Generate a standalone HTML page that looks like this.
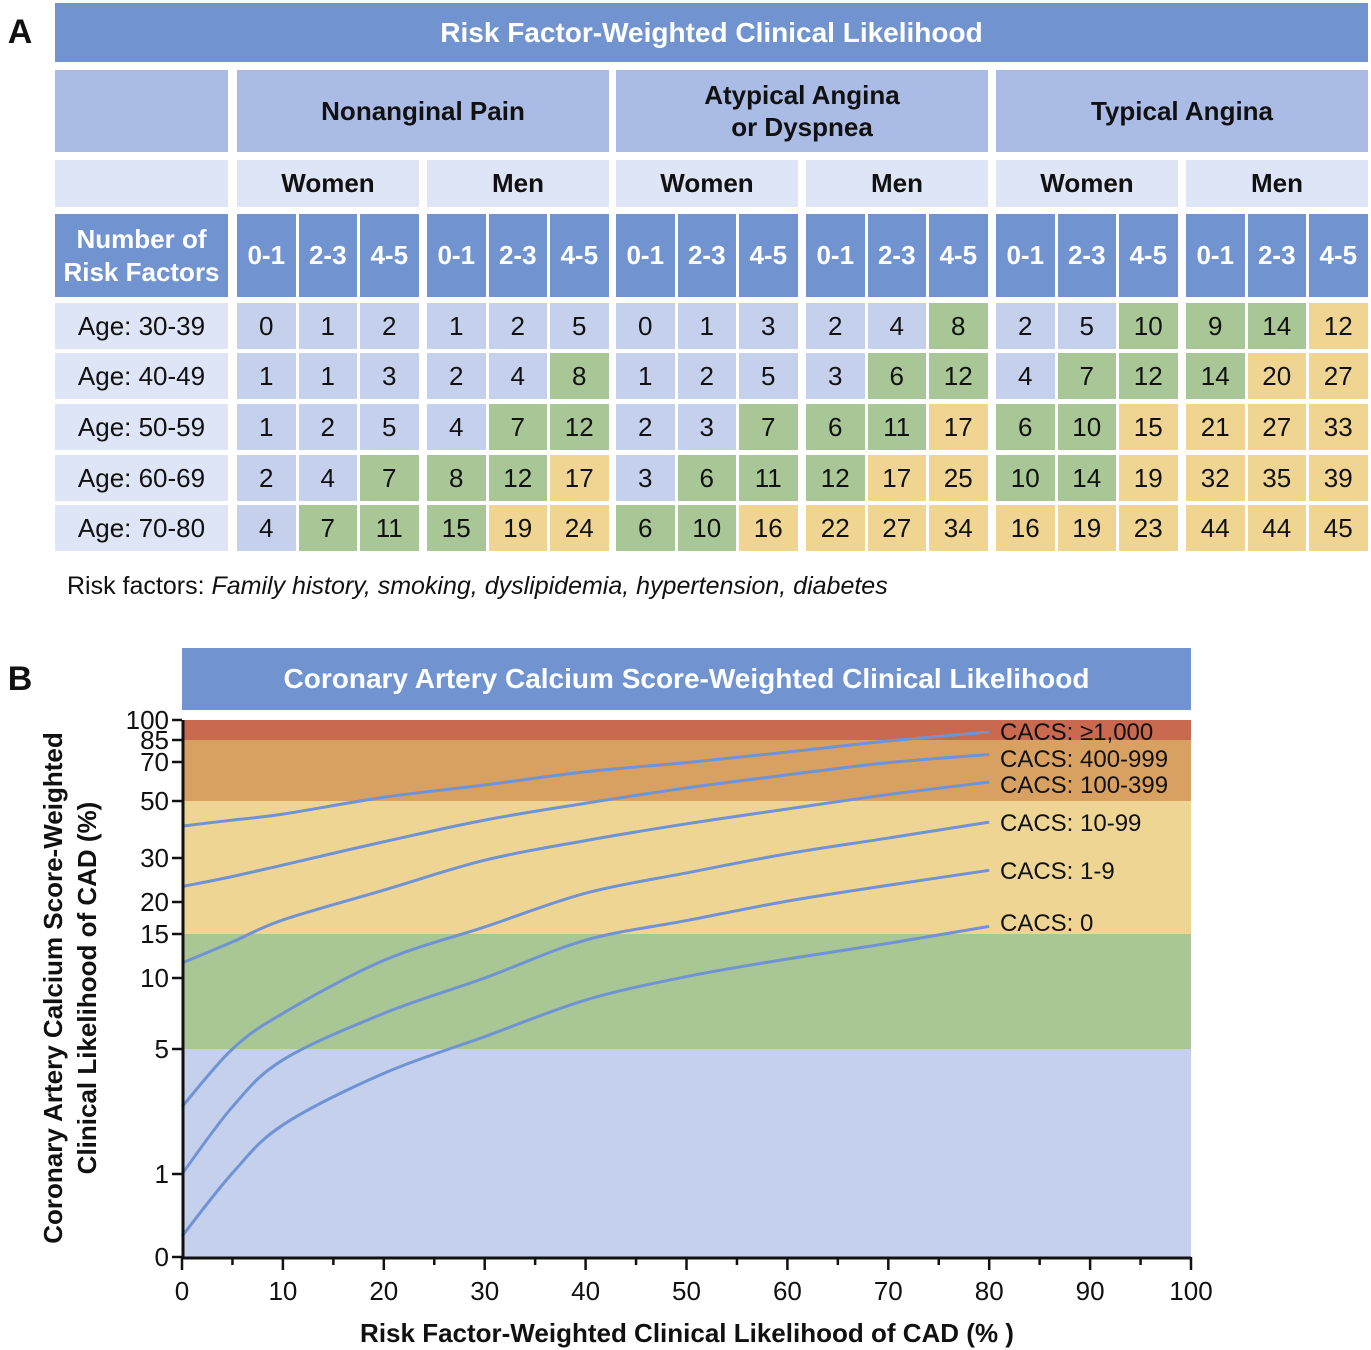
<!DOCTYPE html>
<html><head><meta charset="utf-8">
<style>
body{margin:0;width:1371px;height:1350px;background:#fff;position:relative;overflow:hidden;font-family:"Liberation Sans",sans-serif;}
.c{position:absolute;display:flex;align-items:center;justify-content:center;text-align:center;box-sizing:border-box;color:#111;}
.b{font-weight:bold;}
svg text{font-family:"Liberation Sans",sans-serif;}
</style></head><body>
<div class="c b" style="left:0;top:10px;width:40px;height:44px;font-size:34px;">A</div>
<div class="c b" style="left:55px;top:3px;width:1313px;height:59px;background:#7194d0;color:#fff;font-size:28px;">Risk Factor-Weighted Clinical Likelihood</div>
<div id="tbl"></div>
<div class="c" style="left:67px;top:566px;height:40px;justify-content:flex-start;font-size:25px;white-space:nowrap;">Risk factors:&nbsp;<i>Family history, smoking, dyslipidemia, hypertension, diabetes</i></div>

<div class="c b" style="left:0;top:657px;width:40px;height:44px;font-size:34px;">B</div>
<div class="c b" style="left:182px;top:648px;width:1009px;height:62px;background:#7194d0;color:#fff;font-size:28px;">Coronary Artery Calcium Score-Weighted Clinical Likelihood</div>
<svg id="chart" width="1371" height="1350" style="position:absolute;left:0;top:0;"></svg>

<script>
// ---- Table data ----
var ages = ["Age: 30-39","Age: 40-49","Age: 50-59","Age: 60-69","Age: 70-80"];
var groups = ["Nonanginal Pain","Atypical Angina<br>or Dyspnea","Typical Angina"];
var sexes = ["Women","Men"];
var riskCols = ["0-1","2-3","4-5"];
var tableValues = [
 [0,1,2,1,2,5, 0,1,3,2,4,8, 2,5,10,9,14,12],
 [1,1,3,2,4,8, 1,2,5,3,6,12, 4,7,12,14,20,27],
 [1,2,5,4,7,12, 2,3,7,6,11,17, 6,10,15,21,27,33],
 [2,4,7,8,12,17, 3,6,11,12,17,25, 10,14,19,32,35,39],
 [4,7,11,15,19,24, 6,10,16,22,27,34, 16,19,23,44,44,45]
];
var tableColors = [
 "bbbbbbbbbbbgbbgggy",
 "bbbbbgbbbbggbgggyy",
 "bbbbggbbgggyggyyyy",
 "bbgggybgggyyggyyyy",
 "bgggyyggyyyyyyyyyy"
];
var colMap={b:"#c5d0ec",g:"#a9c796",y:"#efd591"};
var tbl=document.getElementById('tbl');
function cell(x,y,w,h,bg,html,fs,bold,color){
  var d=document.createElement('div');
  d.className='c'+(bold?' b':'');
  d.style.cssText='left:'+x+'px;top:'+y+'px;width:'+w+'px;height:'+h+'px;background:'+bg+';font-size:'+fs+'px;line-height:1.25;'+(color?'color:'+color+';':'');
  d.innerHTML=html;
  tbl.appendChild(d);
  return d;
}
var gx=[237,616,996], gw=372, sw=182, cw=58.5, gap=3;
var e;
e=cell(55,70,173,82,"#aabbe5","",26,true);


e=cell(55,160,173,47,"#dee5f6","",26,true);


e=cell(55,214,173,83,"#7194d0","Number of<br>Risk Factors",26,true,"#fff");


for(var g=0;g<3;g++){
  e=cell(gx[g],70,gw,82,"#aabbe5",groups[g],26,true);
  
  
  for(var s=0;s<2;s++){
    var sx=gx[g]+s*(sw+8);
    e=cell(sx,160,sw,47,"#dee5f6",sexes[s],26,true);
    
    
    for(var k=0;k<3;k++){
      var cx=sx+k*(cw+gap);
      e=cell(cx,214,cw,83,"#7194d0",riskCols[k],26,true,"#fff");
      
      
    }
  }
}
var rowY=[303,353,404,455,505], rh=46;
for(var r=0;r<ages.length;r++){
  e=cell(55,rowY[r],173,rh,"#dee5f6",ages[r],26,false);
  
  
  for(var j=0;j<18;j++){
    var g2=Math.floor(j/6), s2=Math.floor((j%6)/3), k2=j%3;
    var x=gx[g2]+s2*(sw+8)+k2*(cw+gap);
    e=cell(x,rowY[r],cw,rh,colMap[tableColors[r][j]],tableValues[r][j],26,false);
    
    
  }
}

// ---- Chart data ----
var yTickVals = [0,1,5,10,15,20,30,50,70,85,100];
var yTickPix = [1257,1174,1049,978,934,902,858,801,762,740,720];
var xTicks = [0,10,20,30,40,50,60,70,80,90,100];
var bandEdges = [0,5,15,50,85,100];
var bandColors = ["#c5d0ec","#a9c695","#efd593","#d8a162","#c96a50"];
var curveX = [0,5,10,20,30,40,50,60,70,80];
var cacs0 = [0.25,1.03,2.57,4.22,5.87,8.45,10.16,12.16,13.94,16.19];
var cacs1_9 = [1.0,3.15,4.65,7.51,10.0,14.3,17.1,20.2,23.8,27.2];
var cacs10_99 = [3.15,5.0,7.51,12.0,16.1,22.0,26.6,31.5,37,42.6];
var cacs100_399 = [11.7,14.1,17.2,22.7,29.5,36.1,42,47.2,53.3,59.7];
var cacs400_999 = [23.5,25.8,28.4,35.7,43.3,49.2,56.7,63.4,69.7,75.1];
var cacs1000 = [41.2,43.3,45.4,51.9,58.2,65.0,69.7,76.8,84.3,91];
var curveNames = ["CACS: 0","CACS: 1-9","CACS: 10-99","CACS: 100-399","CACS: 400-999","CACS: \u22651,000"];
var curveSeries = [cacs0,cacs1_9,cacs10_99,cacs100_399,cacs400_999,cacs1000];
var labelY = [922,870,822,784,758,731];

var X0=182,X1=1191;
function xs(v){return X0+(X1-X0)*v/100;}
function ys(v){
  for(var i=0;i<yTickVals.length-1;i++){
    if(v<=yTickVals[i+1]){
      var t=(v-yTickVals[i])/(yTickVals[i+1]-yTickVals[i]);
      return yTickPix[i]+t*(yTickPix[i+1]-yTickPix[i]);
    }
  }
  return yTickPix[yTickPix.length-1];
}
var NS="http://www.w3.org/2000/svg", svg=document.getElementById('chart');
function mk(t,a,txt){var n=document.createElementNS(NS,t);for(var k in a)n.setAttribute(k,a[k]);if(txt!=null)n.textContent=txt;svg.appendChild(n);return n;}
for(var i=0;i<bandColors.length;i++){
  var n=mk('rect',{x:X0,y:ys(bandEdges[i+1]),width:X1-X0,height:ys(bandEdges[i])-ys(bandEdges[i+1]),fill:bandColors[i]});
  
  
}
for(var c=0;c<curveSeries.length;c++){
  var pts=curveX.map(function(v,i){return [xs(v),ys(curveSeries[c][i])];});
  var d='M'+pts[0][0]+','+pts[0][1];
  for(var i=0;i<pts.length-1;i++){
    var p0=pts[Math.max(i-1,0)],p1=pts[i],p2=pts[i+1],p3=pts[Math.min(i+2,pts.length-1)];
    d+=' C'+(p1[0]+(p2[0]-p0[0])/6)+','+(p1[1]+(p2[1]-p0[1])/6)+' '+(p2[0]-(p3[0]-p1[0])/6)+','+(p2[1]-(p3[1]-p1[1])/6)+' '+p2[0]+','+p2[1];
  }
  var n=mk('path',{d:d,fill:'none',stroke:'#6f93d4','stroke-width':3});
  
  
  var t=mk('text',{x:1000,y:labelY[c]+9,'font-size':24,fill:'#111'},curveNames[c]);
  
  
}
var ax=mk('path',{d:'M'+(X0+1)+','+yTickPix[yTickPix.length-1]+' V1258 H'+X1,fill:'none',stroke:'#111','stroke-width':3});


for(var i=0;i<yTickVals.length;i++){
  var y=ys(yTickVals[i]);
  mk('line',{x1:X0-10,x2:X0,y1:y,y2:y,stroke:'#111','stroke-width':2.5});
  var t=mk('text',{x:X0-13,y:y+9,'font-size':26,'text-anchor':'end',fill:'#111'},yTickVals[i]);
  
  
}
for(var v=0;v<=100;v+=5){
  var x=xs(v);
  mk('line',{x1:x,x2:x,y1:1257,y2:(v%10===0?1270:1265),stroke:'#111','stroke-width':2.5});
}
for(var i=0;i<xTicks.length;i++){
  var t=mk('text',{x:xs(xTicks[i]),y:1300,'font-size':26,'text-anchor':'middle',fill:'#111'},xTicks[i]);
  
  
}
var xt=mk('text',{x:687,y:1342,'font-size':26,'font-weight':'bold','text-anchor':'middle',fill:'#111'},'Risk Factor-Weighted Clinical Likelihood of CAD (% )');


var yt=mk('text',{x:0,y:0,'font-size':26,'font-weight':'bold','text-anchor':'middle',fill:'#111',transform:'translate(62,988) rotate(-90)'},'Coronary Artery Calcium Score-Weighted');


var yt2=mk('text',{x:0,y:0,'font-size':26,'font-weight':'bold','text-anchor':'middle',fill:'#111',transform:'translate(96,988) rotate(-90)'},'Clinical Likelihood of CAD (%)');


</script>
</body></html>
